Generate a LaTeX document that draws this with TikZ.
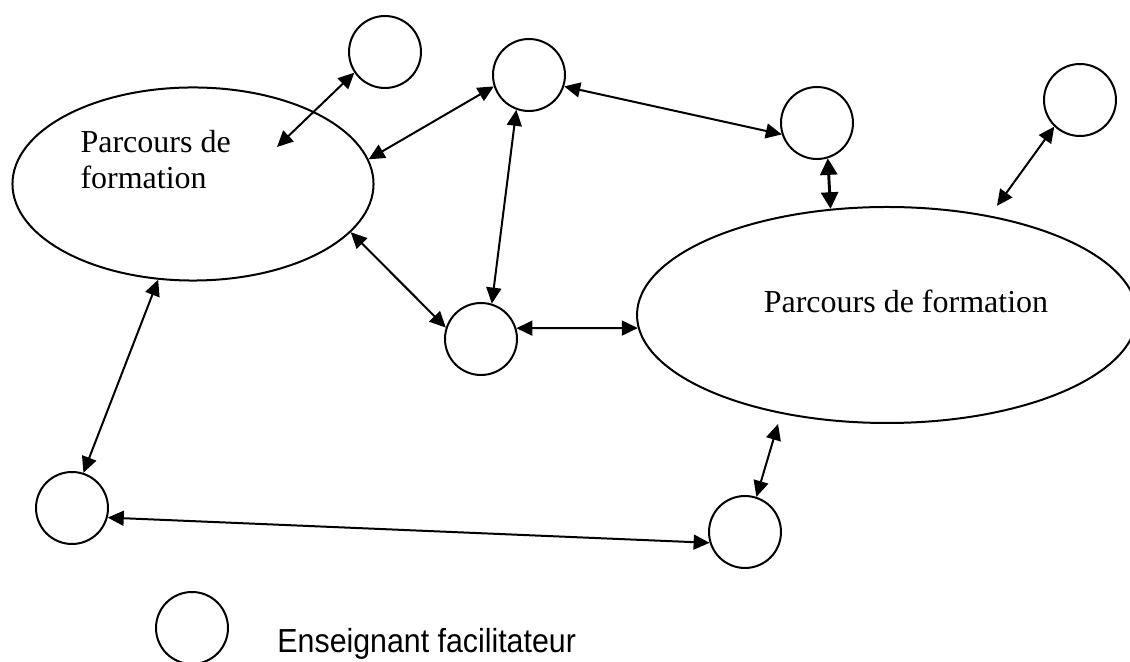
\documentclass[tikz,border=0pt]{standalone}
\usepackage{fontspec}
\setmainfont{Liberation Serif}
\newfontfamily\legendfont{Liberation Sans}
\usetikzlibrary{arrows.meta,shapes.geometric,positioning,calc}

\tikzset{
  parcours/.style={draw, ellipse, line width=0.75pt, inner sep=0pt},
  enseignant/.style={draw, circle, line width=0.75pt, minimum size=27pt, inner sep=0pt},
  lien/.style={line width=0.75pt, {Triangle[length=6pt,width=5.6pt]}-{Triangle[length=6pt,width=5.6pt]}},
  lienfort/.style={line width=1.1pt, {Triangle[length=6.2pt,width=6.4pt]}-{Triangle[length=6.2pt,width=6.4pt]}},
}

\begin{document}
\begin{tikzpicture}[x=0.375pt, y=-0.375pt]
  \useasboundingbox (0,0) rectangle (1130,662);

  % les deux parcours
  \node[parcours, minimum width=135.4pt, minimum height=72.4pt] (p1) at (193,184) {};
  \node[parcours, minimum width=187.5pt, minimum height=81pt] (p2) at (887,315) {};
  \node[anchor=base west, align=left, inner sep=0pt, font=\fontsize{12}{13.5}\selectfont] (p1txt) at (80,189) {Parcours de\\formation};
  \node[anchor=base, inner sep=0pt, font=\fontsize{12}{13.5}\selectfont] (p2txt) at (906,313) {Parcours de formation};
  \coordinate (p1in) at (277,147);

  % les enseignants
  \node[enseignant] (e1) at (385,52) {};
  \node[enseignant] (e2) at (529,75) {};
  \node[enseignant] (e3) at (817,123) {};
  \node[enseignant] (e4) at (1080,100) {};
  \node[enseignant] (e5) at (481,339) {};
  \node[enseignant] (e6) at (72,508) {};
  \node[enseignant] (e7) at (745,532) {};

  % liens
  \draw[lien] (e1.214) -- (p1in);
  \draw[lien] (p1.8) -- (e2.198);
  \draw[lien] (e2.342) -- (e3.198);
  \draw[lien] (e2.250) -- (e5.73);
  \draw[lien] (p1.-17) -- (e5.162);
  \draw[lien] (e5.17) -- (p2.183);
  \draw[lienfort] (e3.287) -- (p2.118);
  \draw[lien, shorten >=4.5pt] (e4.226) -- (p2.44);
  \draw[lien] (p1.250) -- (e6.72);
  \draw[lien] (e6.345) -- (e7.197);
  \draw[lien, shorten <=4pt] (p2.223) -- (e7.72);

  % legende
  \node[enseignant] (leg) at (192,628) {};
  \node[anchor=base west, inner sep=0pt, xscale=0.91, font=\legendfont\fontsize{12.5}{15}\selectfont] (legtxt) at (277,653) {Enseignant facilitateur};
\end{tikzpicture}
\end{document}
